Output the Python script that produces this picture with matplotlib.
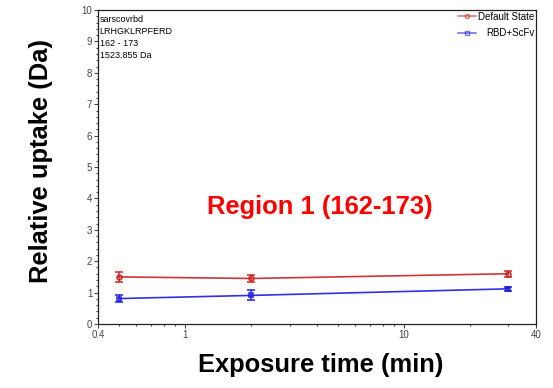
import numpy as np
from matplotlib import pyplot as plt
from matplotlib.lines import Line2D
from matplotlib.ticker import FixedLocator, NullFormatter, MultipleLocator

times = [0.5, 2, 30]
default_state = [1.50, 1.45, 1.60]
default_err = [0.16, 0.12, 0.10]
rbd_scfv = [0.81, 0.91, 1.12]
rbd_err = [0.12, 0.16, 0.06]
info_lines = ["sarscovrbd", "LRHGKLRPFERD", "162 - 173", "1523.855 Da"]
x_ticks = [0.4, 1, 10, 40]
x_ticklabels = ["0.4", "1", "10", "40"]

plt.rcParams['font.family'] = ['Liberation Sans', 'DejaVu Sans']

fig = plt.figure(figsize=(5.53, 3.88), dpi=100)
ax = fig.add_axes([0.177, 0.165, 0.792, 0.809])

red = '#cc2020'
blue = '#1a1ae0'
ax.errorbar(times, default_state, yerr=default_err, color=red, lw=1.2,
            marker='o', ms=3.5, mfc='none', mew=1.2, capsize=3, elinewidth=1.1,
            alpha=0.9)
ax.errorbar(times, rbd_scfv, yerr=rbd_err, color=blue, lw=1.2,
            marker='s', ms=3.5, mfc='none', mew=1.2, capsize=3, elinewidth=1.1,
            alpha=0.9)

ax.set_xscale('log')
ax.set_xlim(0.4, 40)
ax.set_ylim(0, 10)
ax.xaxis.set_major_locator(FixedLocator(x_ticks))
ax.set_xticklabels(x_ticklabels)
minor = [v * d for d in (0.1, 1, 10) for v in range(2, 10) if 0.4 < v * d < 40 and v * d not in (1, 10)]
ax.xaxis.set_minor_locator(FixedLocator(minor))
ax.xaxis.set_minor_formatter(NullFormatter())
ax.yaxis.set_major_locator(MultipleLocator(1))
ax.yaxis.set_minor_locator(MultipleLocator(0.2))
ax.tick_params(which='major', length=3, width=0.8, labelsize=7, colors='#444444', pad=1)
ax.tick_params(which='minor', length=1.5, width=0.8, colors='#444444')
for s in ax.spines.values():
    s.set_linewidth(0.9)
    s.set_color('#222222')

ax.set_xlabel('Exposure time (min)', fontsize=18.4, fontweight='bold')
ax.set_ylabel('Relative uptake (Da)', fontsize=18.4, fontweight='bold')
ax.xaxis.set_label_coords(0.508, -0.13)
ax.yaxis.set_label_coords(-0.13, 0.52)
ax.xaxis.label.set_va('center')
ax.yaxis.label.set_va('center')

for i, line in enumerate(info_lines):
    ax.text(0.004, 0.985 - i * 0.038, line, transform=ax.transAxes, fontsize=6.5,
            va='top', ha='left')

ax.text(0.506, 0.373, 'Region 1 (162-173)', transform=ax.transAxes, color='red',
        fontsize=18.4, fontweight='bold', ha='center', va='center')

handles = [Line2D([], [], color=red, lw=1.2, alpha=0.6, marker='o', ms=3, mfc='none', mew=1.0),
           Line2D([], [], color=blue, lw=1.2, alpha=0.6, marker='s', ms=3, mfc='none', mew=1.0)]
leg = ax.legend(handles, ['Default State', 'RBD+ScFv'], loc='upper right', frameon=False,
                fontsize=7, handlelength=1.9, borderaxespad=0.05, labelspacing=0.7,
                handletextpad=0.2, borderpad=0.1, alignment='right')
for t in leg.get_texts():
    t.set_ha('right')
renderer = fig.canvas.get_renderer()
w = max(t.get_window_extent(renderer).width for t in leg.get_texts())
for t in leg.get_texts():
    t.set_position((w - t.get_window_extent(renderer).width, 0))

fig.savefig('out.png', dpi=100)
